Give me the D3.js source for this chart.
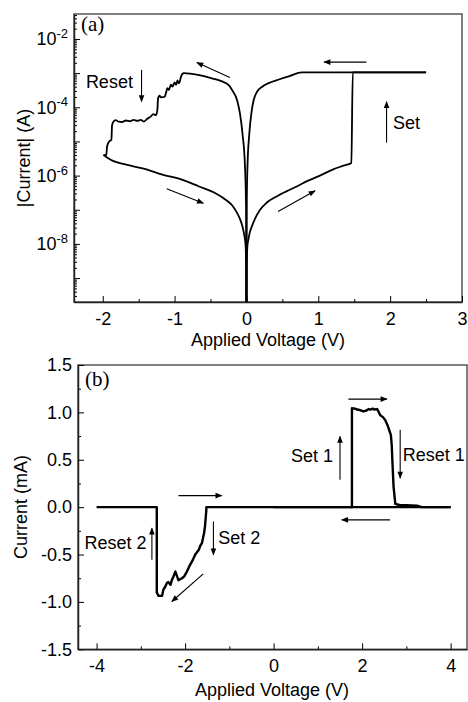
<!DOCTYPE html>
<html>
<head>
<meta charset="utf-8">
<style>
  body { margin: 0; background: #fff; }
  svg { display: block; font-family: "Liberation Sans", Arial, sans-serif; }
</style>
</head>
<body>
<svg width="468" height="702"></svg>
<script src="https://d3js.org/d3.v7.min.js"></script>
<script>

// ---- panel (a): |I| vs V, log scale ----
// forward sweep 0 -> 2.5 V (HRS, then set to compliance)
var setV = [0, 0.005, 0.014, 0.026, 0.045, 0.074, 0.12, 0.19, 0.28, 0.42, 0.55, 0.7, 0.85, 1.0, 1.2, 1.35, 1.46, 1.48, 2.5];
var setI = [1e-11, 3e-9, 9e-9, 1.3e-8, 2.1e-8, 3.2e-8, 5.5e-8, 1e-7, 1.6e-7, 2.45e-7, 3.4e-7, 4.8e-7, 7e-7, 9.5e-7, 1.5e-6, 1.95e-6, 2.35e-6, 1.05e-3, 1.05e-3];

// back 2.5 -> 0 V (LRS)
var backV = [2.5, 0.77, 0.6, 0.46, 0.3, 0.22, 0.15, 0.1, 0.07, 0.04, 0.015, 0.005, 0];
var backI = [1.05e-3, 1.05e-3, 8.2e-4, 6.6e-4, 5e-4, 4e-4, 2.9e-4, 1.6e-4, 7e-5, 1.7e-5, 2e-6, 2e-7, 1e-11];

// 0 -> -2 V (LRS, then noisy reset)
var resetV = [0, -0.005, -0.02, -0.055, -0.09, -0.13, -0.2, -0.24, -0.35, -0.47, -0.66, -0.87, -0.89, -0.91,
  -0.94, -0.96, -0.98, -1.0, -1.03, -1.05, -1.08, -1.1, -1.12, -1.14, -1.19, -1.21, -1.23, -1.24,
  -1.26, -1.3, -1.33, -1.38, -1.43, -1.47, -1.52, -1.57, -1.62, -1.68, -1.73, -1.78, -1.82, -1.85,
  -1.87, -1.88, -1.91, -1.94, -1.95, -1.99];
var resetI = [1e-11, 1e-7, 1.8e-6, 1.7e-5, 6.5e-5, 1.6e-4, 3.2e-4, 4.3e-4, 5.8e-4, 6.9e-4, 8.7e-4, 1.0e-3, 9.6e-4, 7.9e-4,
  5e-4, 6.1e-4, 4.5e-4, 5.3e-4, 4e-4, 4.6e-4, 3.2e-4, 3.6e-4, 2.6e-4, 2.0e-4, 1.95e-4, 2.2e-4, 1.8e-4, 8.3e-5,
  5.9e-5, 6.3e-5, 5.4e-5, 4.6e-5, 3.8e-5, 4.3e-5, 4.0e-5, 4.3e-5, 3.9e-5, 4.1e-5, 3.7e-5, 3.8e-5, 4.2e-5, 3.8e-5,
  3.0e-5, 1.1e-5, 1.0e-5, 7.1e-6, 4e-6, 4e-6];

// return -2 -> 0 V (HRS)
var retV = [-1.99, -1.89, -1.66, -1.43, -1.17, -0.9, -0.66, -0.45, -0.28, -0.2, -0.15, -0.1, -0.06, -0.03, -0.012, -0.004, 0];
var retI = [4e-6, 2.9e-6, 2.05e-6, 1.6e-6, 1.07e-6, 7.6e-7, 4.8e-7, 3.2e-7, 1.9e-7, 1.35e-7, 9.5e-8, 6e-8, 3.5e-8, 1.8e-8, 9e-9, 2e-9, 1e-11];

var aXTicks = [-2, -1, 0, 1, 2, 3];
var aYTicks = [1e-2, 1e-4, 1e-6, 1e-8];
var aYExp = ["-2", "-4", "-6", "-8"];

// ---- panel (b): I (mA) vs V ----
var posV = [0, 1.77, 1.77, 1.84, 1.88, 1.95, 2.03, 2.1, 2.15, 2.19, 2.24, 2.27, 2.34, 2.38, 2.41, 2.47, 2.52,
  2.57, 2.6, 2.65, 2.67, 2.68, 2.71, 2.75, 2.86, 3.0, 3.24, 3.35, 4.0];
var posI = [0, 0, 1.044, 1.04, 1.03, 1.025, 1.01, 1.02, 1.035, 1.03, 1.04, 1.03, 1.035, 1.0, 0.97, 0.95, 0.92,
  0.87, 0.83, 0.76, 0.65, 0.53, 0.22, 0.035, 0.02, 0.02, 0.015, 0, 0];

var negV = [4.0, -1.52, -1.52, -1.55, -1.57, -1.62, -1.66, -1.69, -1.77, -1.84, -1.9, -1.96, -2.02, -2.07,
  -2.15, -2.19, -2.22, -2.27, -2.3, -2.33, -2.38, -2.41, -2.45, -2.49, -2.52, -2.6, -2.64, -2.64, -4.0];
var negI = [0, 0, -0.03, -0.2, -0.27, -0.38, -0.41, -0.45, -0.5, -0.57, -0.62, -0.68, -0.73, -0.75,
  -0.77, -0.72, -0.68, -0.74, -0.77, -0.82, -0.79, -0.8, -0.84, -0.87, -0.936, -0.936, -0.9, 0, 0];

var bXTicks = [-4, -2, 0, 2, 4];
var bYTicks = [-1.5, -1.0, -0.5, 0.0, 0.5, 1.0, 1.5];

var svg = d3.select("svg");
var defs = svg.append("defs");
defs.append("marker")
    .attr("id", "head")
    .attr("viewBox", "0 0 10 10")
    .attr("refX", 9).attr("refY", 5)
    .attr("markerWidth", 9).attr("markerHeight", 7)
    .attr("markerUnits", "userSpaceOnUse")
    .attr("orient", "auto")
  .append("path")
    .attr("d", "M0,1 L10,5 L0,9 Z")
    .attr("fill", "#000");

function zip(vs, is) { return vs.map(function(v, i) { return [v, is[i]]; }); }

function drawArrows(g, x, y, arrows) {
  g.selectAll(null).data(arrows).enter().append("line")
      .attr("x1", function(d) { return x(d[0]); })
      .attr("y1", function(d) { return y(d[1]); })
      .attr("x2", function(d) { return x(d[2]); })
      .attr("y2", function(d) { return y(d[3]); })
      .attr("stroke", "#000")
      .attr("stroke-width", 1.1)
      .attr("marker-end", "url(#head)");
}

function drawLabels(g, x, y, labels) {
  g.selectAll(null).data(labels).enter().append("text")
      .attr("x", function(d) { return x(d[1]); })
      .attr("y", function(d) { return y(d[2]); })
      .attr("dy", "0.35em")
      .attr("text-anchor", function(d) { return d[3]; })
      .style("font-size", "18px")
      .text(function(d) { return d[0]; });
}

// ===================== panel (a) =====================
var xa = d3.scaleLinear().domain([-2.4, 3]).range([74, 462]);
var ya = d3.scaleLog().domain([Math.pow(10, -9.7), Math.pow(10, -1.27)]).range([302, 14]);

defs.append("clipPath").attr("id", "clipA")
  .append("rect").attr("x", 74).attr("y", 14).attr("width", 388).attr("height", 288);

var ga = svg.append("g");

ga.append("rect")
    .attr("x", 74).attr("y", 14).attr("width", 388).attr("height", 288)
    .attr("fill", "none").attr("stroke", "#555").attr("stroke-width", 1.5);

var lineA = d3.line()
    .curve(d3.curveMonotoneX)
    .x(function(d) { return xa(d[0]); })
    .y(function(d) { return ya(d[1]); });

[zip(setV, setI), zip(backV, backI), zip(resetV, resetI), zip(retV, retI)].forEach(function(seg) {
  ga.append("path")
      .datum(seg)
      .attr("clip-path", "url(#clipA)")
      .attr("fill", "none")
      .attr("stroke", "#000")
      .attr("stroke-width", 1.8)
      .attr("stroke-linejoin", "round")
      .attr("d", lineA);
});

// minor log ticks
var aMinor = [];
for (var e = -10; e <= -2; e++) {
  for (var k = 2; k <= 9; k++) {
    var v = k * Math.pow(10, e);
    if (v > ya.domain()[0] && v < ya.domain()[1]) aMinor.push(v);
  }
}
var aOdd = [1e-3, 1e-5, 1e-7, 1e-9];

ga.append("g")
    .attr("transform", "translate(74,0)")
    .call(d3.axisLeft(ya).tickValues(aMinor).tickSizeInner(-3).tickSizeOuter(0).tickFormat(""))
    .call(function(g) { g.select(".domain").remove(); });
ga.append("g")
    .attr("transform", "translate(74,0)")
    .call(d3.axisLeft(ya).tickValues(aOdd).tickSizeInner(-6).tickSizeOuter(0).tickFormat(""))
    .call(function(g) { g.select(".domain").remove(); });

var yAxA = ga.append("g")
    .attr("transform", "translate(74,0)")
    .call(d3.axisLeft(ya).tickValues(aYTicks).tickSizeInner(-6).tickSizeOuter(0).tickPadding(6).tickFormat(""));
yAxA.select(".domain").attr("stroke", "#222").attr("stroke-width", 1.5);
yAxA.selectAll(".tick text").each(function(d, i) {
  var t = d3.select(this).style("font-size", "18px").attr("fill", "#000");
  t.append("tspan").text("10");
  t.append("tspan").attr("dy", "-0.55em").style("font-size", "13px").text(aYExp[i]);
});

var aXMinor = d3.range(-2, 3.01, 0.5).filter(function(v) { return v % 1 !== 0; });
ga.append("g")
    .attr("transform", "translate(0,302)")
    .call(d3.axisBottom(xa).tickValues(aXMinor).tickSizeInner(-3).tickSizeOuter(0).tickFormat(""))
    .call(function(g) { g.select(".domain").remove(); });
var xAxA = ga.append("g")
    .attr("transform", "translate(0,302)")
    .call(d3.axisBottom(xa).tickValues(aXTicks).tickSizeInner(-6).tickSizeOuter(0).tickPadding(10)
      .tickFormat(d3.format("d")));
xAxA.select(".domain").attr("stroke", "#222").attr("stroke-width", 1.5);
xAxA.selectAll(".tick text").style("font-size", "18px").attr("fill", "#000")
    .text(function(d) { return d < 0 ? "-" + Math.abs(d) : d; });

ga.append("text")
    .attr("x", 268).attr("y", 346)
    .attr("text-anchor", "middle")
    .style("font-size", "18px")
    .text("Applied Voltage (V)");
ga.append("text")
    .attr("transform", "translate(30,158) rotate(-90)")
    .attr("text-anchor", "middle")
    .style("font-size", "18px")
    .text("|Current| (A)");
ga.append("text")
    .attr("x", 81).attr("y", 31)
    .style("font-family", "'Liberation Serif', 'Times New Roman', serif")
    .style("font-size", "21px")
    .text("(a)");

drawArrows(ga, xa, ya, [
  [-1.46, 1.24e-3, -1.46, 1.46e-4],
  [-0.23, 7.4e-4, -0.69, 2.03e-3],
  [1.67, 2.1e-3, 1.08, 2.1e-3],
  [1.95, 9.3e-6, 1.95, 1.46e-4],
  [-1.11, 4.1e-7, -0.6, 1.55e-7],
  [0.44, 8.9e-8, 0.955, 3.6e-7]
]);
drawLabels(ga, xa, ya, [
  ["Reset", -1.58, 5.5e-4, "end"],
  ["Set", 2.04, 3.5e-5, "start"]
]);

// ===================== panel (b) =====================
var xb = d3.scaleLinear().domain([-4.42, 4.37]).range([78, 467]);
var yb = d3.scaleLinear().domain([-1.5, 1.5]).range([649.3, 365]);

var gb = svg.append("g");

gb.append("rect")
    .attr("x", 78).attr("y", 365).attr("width", 389).attr("height", 284.3)
    .attr("fill", "none").attr("stroke", "#555").attr("stroke-width", 1.5);

var lineB = d3.line()
    .x(function(d) { return xb(d[0]); })
    .y(function(d) { return yb(d[1]); });

[zip(posV, posI), zip(negV, negI)].forEach(function(seg) {
  gb.append("path")
      .datum(seg)
      .attr("fill", "none")
      .attr("stroke", "#000")
      .attr("stroke-width", 2.4)
      .attr("stroke-linejoin", "round")
      .attr("d", lineB);
});

var bYMinor = d3.range(-1.25, 1.5, 0.5);
gb.append("g")
    .attr("transform", "translate(78,0)")
    .call(d3.axisLeft(yb).tickValues(bYMinor).tickSizeInner(-3).tickSizeOuter(0).tickFormat(""))
    .call(function(g) { g.select(".domain").remove(); });
var yAxB = gb.append("g")
    .attr("transform", "translate(78,0)")
    .call(d3.axisLeft(yb).tickValues(bYTicks).tickSizeInner(-6).tickSizeOuter(0).tickPadding(6)
      .tickFormat(d3.format(".1f")));
yAxB.select(".domain").attr("stroke", "#222").attr("stroke-width", 1.5);
yAxB.selectAll(".tick text").style("font-size", "18px").attr("fill", "#000")
    .text(function(d) { return d < 0 ? "-" + Math.abs(d).toFixed(1) : d.toFixed(1); });

var bXMinor = [-3, -1, 1, 3];
gb.append("g")
    .attr("transform", "translate(0,649.3)")
    .call(d3.axisBottom(xb).tickValues(bXMinor).tickSizeInner(-3).tickSizeOuter(0).tickFormat(""))
    .call(function(g) { g.select(".domain").remove(); });
var xAxB = gb.append("g")
    .attr("transform", "translate(0,649.3)")
    .call(d3.axisBottom(xb).tickValues(bXTicks).tickSizeInner(-6).tickSizeOuter(0).tickPadding(10));
xAxB.select(".domain").attr("stroke", "#222").attr("stroke-width", 1.5);
xAxB.selectAll(".tick text").style("font-size", "18px").attr("fill", "#000")
    .text(function(d) { return d < 0 ? "-" + Math.abs(d) : d; });

gb.append("text")
    .attr("x", 272).attr("y", 696)
    .attr("text-anchor", "middle")
    .style("font-size", "18px")
    .text("Applied Voltage (V)");
gb.append("text")
    .attr("transform", "translate(27,507) rotate(-90)")
    .attr("text-anchor", "middle")
    .style("font-size", "18px")
    .text("Current (mA)");
gb.append("text")
    .attr("x", 85).attr("y", 386)
    .style("font-family", "'Liberation Serif', 'Times New Roman', serif")
    .style("font-size", "21px")
    .text("(b)");

drawArrows(gb, xb, yb, [
  [-2.15, 0.122, -1.17, 0.122],
  [1.69, 1.14, 2.56, 1.14],
  [2.63, -0.134, 1.54, -0.134],
  [1.5, 0.288, 1.5, 0.745],
  [2.86, 0.816, 2.86, 0.306],
  [-2.75, -0.556, -2.75, -0.222],
  [-1.36, -0.152, -1.36, -0.503],
  [-1.59, -0.704, -2.3, -0.996]
]);
drawLabels(gb, xb, yb, [
  ["Set 1", 1.34, 0.54, "end"],
  ["Reset 1", 2.92, 0.55, "start"],
  ["Reset 2", -2.87, -0.377, "end"],
  ["Set 2", -1.25, -0.324, "start"]
]);

</script>
</body>
</html>
